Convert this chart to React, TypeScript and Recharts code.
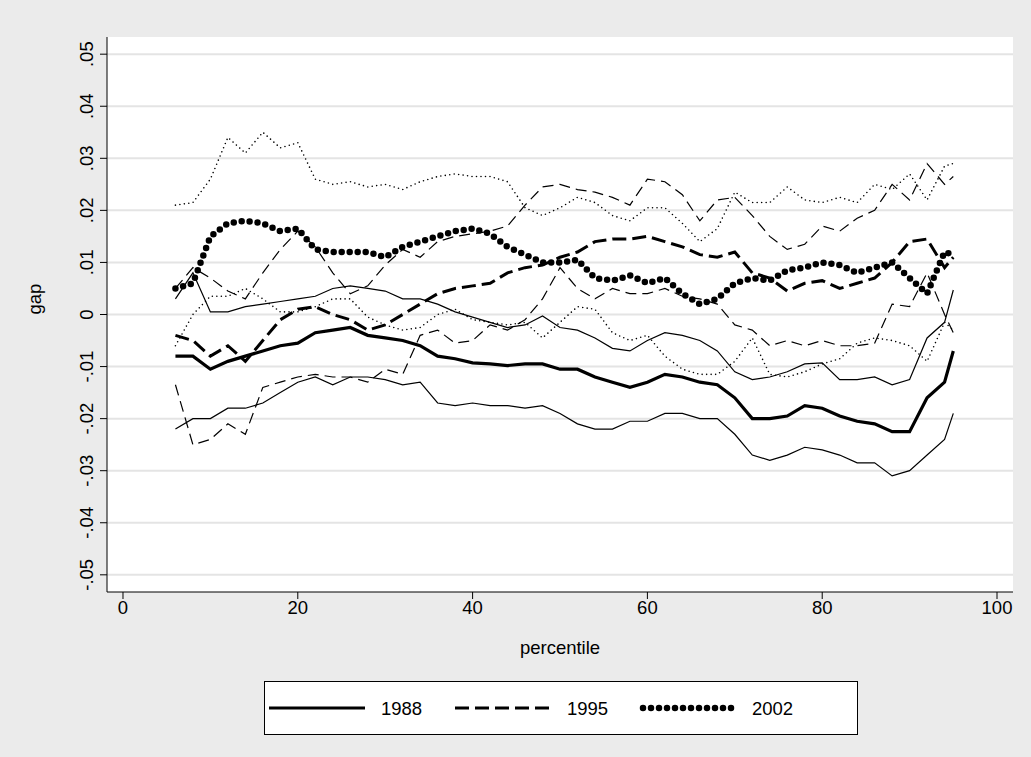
import React from 'react';
import { LineChart, Line, XAxis, YAxis, CartesianGrid } from 'recharts';

const pct = [6,8,10,12,14,16,18,20,22,24,26,28,30,32,34,36,38,40,42,44,46,48,50,52,54,56,58,60,62,64,66,68,70,72,74,76,78,80,82,84,86,88,90,92,94,95];

// values in thousandths
const mid88 = [-8,-8,-10.5,-9,-8,-7,-6,-5.5,-3.5,-3,-2.5,-4,-4.5,-5,-6,-8,-8.5,-9.3,-9.5,-9.8,-9.5,-9.5,-10.5,-10.5,-12,-13,-14,-13,-11.5,-12,-13,-13.5,-16,-20,-20,-19.5,-17.5,-18,-19.5,-20.5,-21,-22.5,-22.5,-16,-13,-7];
const hi88 = [3,8,0.5,0.5,1.5,2,2.5,3,3.5,5,5.5,5,4.5,3,3,2,0.5,-0.5,-1.5,-2.5,-2,-0.3,-2.5,-3,-4.5,-6.5,-7,-5,-3.5,-4,-5,-7,-11,-12.5,-12,-11,-9.5,-9.3,-12.5,-12.5,-12,-13.5,-12.5,-4.5,-1.5,4.7];
const lo88 = [-22,-20,-20,-18,-18,-17,-15,-13,-12,-13.5,-12,-12,-12.5,-13.5,-13,-17,-17.5,-17,-17.5,-17.5,-18,-17.5,-19,-21,-22,-22,-20.5,-20.5,-19,-19,-20,-20,-23,-27,-28,-27,-25.5,-26,-27,-28.5,-28.5,-31,-30,-27,-24,-19];
const mid95 = [-4,-5,-8,-6,-9,-5,-1,1,1.5,0,-1,-3,-2,0,2,4,5,5.5,6,8,9,9.5,11,12,14,14.5,14.5,15,14,13,11.5,11,12,8,7,4.5,6,6.5,5,6,7,10,14,14.5,9,11];
const hi95 = [5,9,7,4.5,3,8,12.5,16,13,8,4,5.5,9.5,12.5,11,14,15,15.5,16,17,21,24.5,25,24,23.5,22.5,21,26,25.5,23,18,22,22.5,19,15,12.5,13.5,17,16,18.5,20,25,22,29,25,26.5];
const lo95 = [-13.5,-25,-24,-21,-23,-14,-13,-12,-11.5,-12,-12,-13,-10.5,-11.5,-4,-3,-5.5,-5,-2,-3,-1,3,9,5,3,5,4,4,5,3.5,3,2,-2,-3,-6,-5,-6,-5,-6,-6,-5.5,2,1.5,8,0,-3.5];
const mid02 = [5,6,15,17.5,18,17.5,16,16.5,12.5,12,12,12,11,13,14,15,16,16.5,15.5,13,11.5,10,10,10.5,7,6.5,7.5,6,7,4,2,3,6,7,6.5,8.5,9,10,9.5,8,9,10,7,4,12,11.5];
const hi02 = [21,21.5,26,34,31,35,32,33,26,25,25.5,24.5,25,24,25.5,26.5,27,26.5,26.5,25.5,20.5,19,20.5,22.5,21.5,19,18,20.5,20.5,17.5,14,16.5,23.5,21.5,21.5,24.5,22,21.5,22.5,21.5,25,24,27,22,28.5,29];
const lo02 = [-6,0,3.5,3.5,5,3,0.5,0.5,1.5,3,3,-0.5,-2,-3,-2.5,0,1,-1,-1.5,-2,-1.5,-4.5,-1.5,1.5,1,-3.5,-5,-4,-8,-10.5,-11.5,-11.5,-9,-4.5,-11.5,-12,-11,-9.5,-8.5,-5.5,-4.5,-5,-6,-9,-1.5,-3];

const yTicks = [-0.05,-0.04,-0.03,-0.02,-0.01,0,0.01,0.02,0.03,0.04,0.05];
const xTicks = [0,20,40,60,80,100];

const data = pct.map((p, i) => ({
  p,
  mid88: mid88[i] / 1000, hi88: hi88[i] / 1000, lo88: lo88[i] / 1000,
  mid95: mid95[i] / 1000, hi95: hi95[i] / 1000, lo95: lo95[i] / 1000,
  mid02: mid02[i] / 1000, hi02: hi02[i] / 1000, lo02: lo02[i] / 1000,
}));

const font = '"Liberation Sans", Arial, sans-serif';
const fs = 18.5;

const fmt = (v: number) => {
  if (Math.abs(v) < 1e-9) return '0';
  return (v < 0 ? '-' : '') + Math.abs(v).toFixed(2).replace(/^0/, '');
};

const YTick = (props: any) => {
  const { x, y, payload } = props;
  return (
    <text x={x - 5} y={y} transform={`rotate(-90 ${x - 5} ${y})`} textAnchor="middle" fontSize={fs} fill="#000" fontFamily={font}>
      {fmt(payload.value)}
    </text>
  );
};

const series = [
  { key: 'hi88', w: 1.2, dash: undefined, cap: 'butt' },
  { key: 'lo88', w: 1.2, dash: undefined, cap: 'butt' },
  { key: 'mid88', w: 3.2, dash: undefined, cap: 'butt' },
  { key: 'hi95', w: 1.2, dash: '11 6', cap: 'butt' },
  { key: 'lo95', w: 1.2, dash: '11 6', cap: 'butt' },
  { key: 'mid95', w: 3, dash: '14 6', cap: 'butt' },
  { key: 'hi02', w: 1.6, dash: '0 4.5', cap: 'round' },
  { key: 'lo02', w: 1.6, dash: '0 4.5', cap: 'round' },
  { key: 'mid02', w: 6.5, dash: '0 8', cap: 'round' },
];

export default function App() {
  return (
    <div style={{ position: 'absolute', left: 0, top: 0, width: 1031, height: 757, background: '#ebebeb', fontFamily: font }}>
      <LineChart width={1031} height={757} data={data} margin={{ top: 37, right: 18, left: 40, bottom: 105 }}>
        <CartesianGrid horizontal vertical={false} fill="#ffffff" stroke="#e4e4e4" strokeWidth={2} horizontalValues={yTicks} />
        <XAxis
          type="number"
          dataKey="p"
          domain={[-1.83, 101.83]}
          ticks={xTicks}
          allowDataOverflow
          stroke="#000"
          tickSize={7}
          height={60}
          tick={{ fontSize: fs, fill: '#000', fontFamily: font }}
          label={{ value: 'percentile', position: 'insideBottom', offset: -2, fontSize: fs, fill: '#000', fontFamily: font }}
        />
        <YAxis
          type="number"
          domain={[-0.0533, 0.0533]}
          ticks={yTicks}
          allowDataOverflow
          stroke="#000"
          tickSize={7}
          width={67}
          tick={<YTick />}
          label={{ value: 'gap', angle: -90, position: 'insideLeft', offset: -6, fontSize: fs, fill: '#000', fontFamily: font }}
        />
        {series.map((s) => (
          <Line
            key={s.key}
            dataKey={s.key}
            type="linear"
            stroke="#000"
            strokeWidth={s.w}
            strokeDasharray={s.dash}
            strokeLinecap={s.cap as any}
            dot={false}
            activeDot={false}
            isAnimationActive={false}
          />
        ))}
      </LineChart>
      <div style={{ position: 'absolute', left: 264, top: 681, width: 594, height: 54, background: '#fff', border: '1px solid #000', boxSizing: 'border-box' }}>
        <svg width={592} height={52}>
          <line x1={4} y1={26} x2={100} y2={26} stroke="#000" strokeWidth={3.2} />
          <text x={116} y={33} fontSize={fs} fontFamily={font}>1988</text>
          <line x1={190} y1={26} x2={286} y2={26} stroke="#000" strokeWidth={3} strokeDasharray="14 6" />
          <text x={302} y={33} fontSize={fs} fontFamily={font}>1995</text>
          <line x1={378} y1={26} x2={472} y2={26} stroke="#000" strokeWidth={6.5} strokeDasharray="0 8" strokeLinecap="round" />
          <text x={487} y={33} fontSize={fs} fontFamily={font}>2002</text>
        </svg>
      </div>
    </div>
  );
}
